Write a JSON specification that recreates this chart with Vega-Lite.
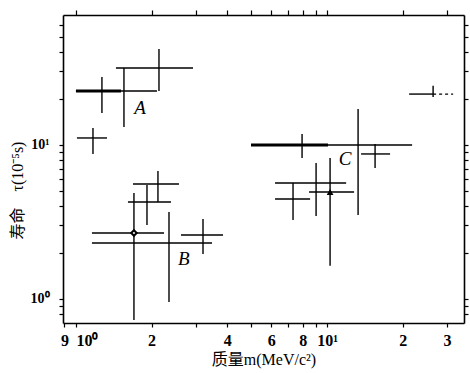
{
  "$schema": "https://vega.github.io/schema/vega-lite/v6.json",
  "width": 401,
  "height": 308,
  "autosize": {"type": "none"},
  "padding": {"left": 63, "top": 15, "right": 6, "bottom": 50},
  "background": "white",
  "config": {
    "view": {"stroke": null},
    "axis": {
      "domainColor": "black",
      "tickColor": "black",
      "labelColor": "black",
      "titleColor": "black",
      "domainWidth": 1.6,
      "tickWidth": 1.2,
      "grid": false,
      "labelFont": "Liberation Serif",
      "labelFontWeight": "bold",
      "titleFont": "Liberation Serif, Noto Sans CJK SC",
      "labelOverlap": false,
      "labelFlush": false,
      "labelBound": false
    }
  },
  "datasets": {
    "bars": [
      {"id": "A1", "m": 1.269, "mlo": 1.0, "mhi": 1.511, "t": 22.4, "tlo": 16.1, "thi": 27.6},
      {"id": "A2", "m": 1.553, "mlo": 1.511, "mhi": 2.102, "t": 22.4, "tlo": 13.1, "thi": 31.6},
      {"id": "A3", "m": 2.141, "mlo": 1.443, "mhi": 2.925, "t": 31.6, "tlo": 22.4, "thi": 42.0},
      {"id": "A4", "m": 1.169, "mlo": 1.009, "mhi": 1.329, "t": 11.1, "tlo": 8.74, "thi": 12.9},
      {"id": "R1", "m": 26.44, "mlo": 21.22, "mhi": 26.44, "t": 21.4, "tlo": 20.5, "thi": 24.2},
      {"id": "C1", "m": 7.951, "mlo": 4.98, "mhi": 10.09, "t": 10.0, "tlo": 8.23, "thi": 11.8},
      {"id": "C2", "m": 13.29, "mlo": 10.09, "mhi": 21.81, "t": 10.0, "tlo": 3.51, "thi": 17.1},
      {"id": "C3", "m": 15.53, "mlo": 13.66, "mhi": 17.82, "t": 8.74, "tlo": 7.09, "thi": 10.15},
      {"id": "C4", "m": 9.042, "mlo": 6.207, "mhi": 11.91, "t": 5.66, "tlo": 3.46, "thi": 7.64},
      {"id": "C5", "m": 7.319, "mlo": 6.207, "mhi": 8.558, "t": 4.46, "tlo": 3.26, "thi": 5.66},
      {"id": "C6", "m": 10.28, "mlo": 8.479, "mhi": 12.81, "t": 4.95, "tlo": 1.64, "thi": 8.23},
      {"id": "B1", "m": 2.121, "mlo": 1.687, "mhi": 2.572, "t": 5.58, "tlo": 4.26, "thi": 6.78},
      {"id": "B2", "m": 1.918, "mlo": 1.611, "mhi": 2.39, "t": 4.26, "tlo": 3.02, "thi": 5.5},
      {"id": "B3", "m": 1.702, "mlo": 1.158, "mhi": 2.242, "t": 2.68, "tlo": 0.731, "thi": 4.88},
      {"id": "B4", "m": 2.347, "mlo": 1.158, "mhi": 3.482, "t": 2.31, "tlo": 0.956, "thi": 3.67},
      {"id": "B5", "m": 3.206, "mlo": 2.62, "mhi": 3.852, "t": 2.6, "tlo": 1.96, "thi": 3.31}
    ],
    "labels": [
      {"label": "A", "m": 1.8, "t": 17.4},
      {"label": "B", "m": 2.69, "t": 1.82},
      {"label": "C", "m": 11.8, "t": 8.11}
    ],
    "dash": [
      {"m1": 26.44, "m2": 31.77, "t": 21.4}
    ]
  },
  "layer": [
    {
      "data": {"name": "bars"},
      "mark": {"type": "rule", "color": "black", "strokeWidth": 1.4},
      "encoding": {
        "x": {
          "field": "mlo", "type": "quantitative",
          "scale": {"type": "log", "domain": [0.888, 35.1], "nice": false},
          "axis": {
            "orient": "bottom",
            "values": [0.9, 1, 2, 3, 4, 5, 6, 7, 8, 9, 10, 20, 30],
            "labelExpr": "datum.value < 0.95 ? '9' : datum.value == 1 ? '\u00a010⁰' : datum.value == 10 ? '10¹' : datum.value == 20 ? '2' : datum.value == 30 ? '3' : (datum.value == 2 || datum.value == 4 || datum.value == 6 || datum.value == 8) ? '' + datum.value : ''",
            "labelAlign": {"condition": {"test": "datum.value == 1", "value": "left"}, "value": "center"},
            "tickSize": 4,
            "labelPadding": 5,
            "labelFontSize": 16,
            "title": "质量m(MeV/c²)",
            "titleFontSize": 16,
            "titlePadding": 3,
            "titleFontWeight": "normal"
          }
        },
        "x2": {"field": "mhi"},
        "y": {
          "field": "t", "type": "quantitative",
          "scale": {"type": "log", "domain": [0.698, 69.8], "nice": false},
          "axis": {
            "orient": "left",
            "values": [0.8, 0.9, 1, 2, 3, 4, 5, 6, 7, 8, 9, 10, 20, 30, 40, 50, 60],
            "labelExpr": "datum.value == 1 ? '10⁰' : datum.value == 10 ? '10¹' : ''",
            "tickSize": 4,
            "labelPadding": 10,
            "labelFontSize": 14,
            "title": "寿命\u3000τ(10⁻⁵s)",
            "titleFontSize": 16,
            "titleFontWeight": "normal",
            "titleX": -38,
            "titleY": 175
          }
        }
      }
    },
    {
      "data": {"name": "bars"},
      "mark": {"type": "rule", "color": "black", "strokeWidth": 1.4},
      "encoding": {
        "x": {
          "field": "m", "type": "quantitative",
          "scale": {"type": "log", "domain": [0.888, 35.1], "nice": false},
          "axis": {
            "orient": "top",
            "values": [1, 2, 3, 4, 5, 6, 7, 8, 9, 10, 20, 30],
            "labels": false,
            "tickSize": 5,
            "title": null
          }
        },
        "y": {
          "field": "tlo", "type": "quantitative",
          "scale": {"type": "log", "domain": [0.698, 69.8], "nice": false},
          "axis": {
            "orient": "right",
            "values": [0.8, 0.9, 1, 2, 3, 4, 5, 6, 7, 8, 9, 10, 20, 30, 40, 50, 60],
            "labels": false,
            "tickSize": 4,
            "title": null
          }
        },
        "y2": {"field": "thi"}
      }
    },
    {
      "data": {"name": "bars"},
      "transform": [{"filter": "datum.id == 'A1' || datum.id == 'C1'"}],
      "mark": {"type": "rule", "color": "black", "strokeWidth": 3},
      "encoding": {
        "x": {"field": "mlo", "type": "quantitative", "axis": null},
        "x2": {"field": "mhi"},
        "y": {"field": "t", "type": "quantitative", "axis": null}
      }
    },
    {
      "data": {"name": "bars"},
      "transform": [{"filter": "datum.id == 'B3'"}],
      "mark": {"type": "point", "shape": "diamond", "filled": true, "fill": "white", "stroke": "black", "strokeWidth": 2, "size": 30, "opacity": 1},
      "encoding": {
        "x": {"field": "m", "type": "quantitative", "axis": null},
        "y": {"field": "t", "type": "quantitative", "axis": null}
      }
    },
    {
      "data": {"name": "bars"},
      "transform": [{"filter": "datum.id == 'C6'"}],
      "mark": {"type": "point", "shape": "triangle-up", "filled": true, "color": "black", "size": 45, "opacity": 1},
      "encoding": {
        "x": {"field": "m", "type": "quantitative", "axis": null},
        "y": {"field": "t", "type": "quantitative", "axis": null}
      }
    },
    {
      "data": {"name": "dash"},
      "mark": {"type": "rule", "color": "black", "strokeWidth": 1.2, "strokeDash": [3, 3]},
      "encoding": {
        "x": {"field": "m1", "type": "quantitative", "axis": null},
        "x2": {"field": "m2"},
        "y": {"field": "t", "type": "quantitative", "axis": null}
      }
    },
    {
      "data": {"name": "labels"},
      "mark": {"type": "text", "font": "Liberation Serif", "fontStyle": "italic", "fontSize": 19, "color": "black", "align": "center", "baseline": "middle"},
      "encoding": {
        "x": {"field": "m", "type": "quantitative", "axis": null},
        "y": {"field": "t", "type": "quantitative", "axis": null},
        "text": {"field": "label"}
      }
    }
  ]
}
